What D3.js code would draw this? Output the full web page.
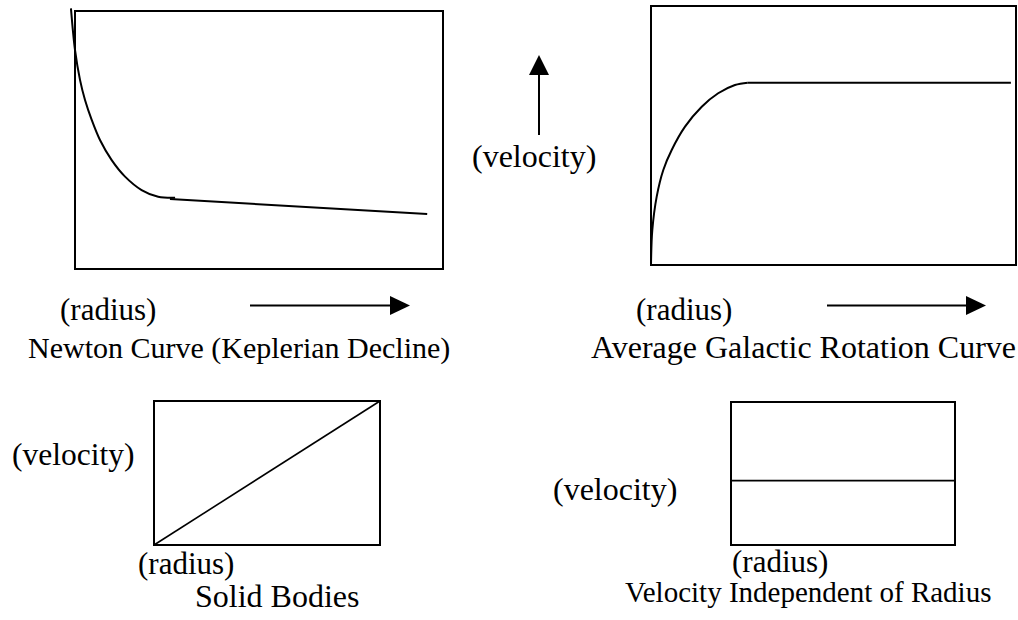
<!DOCTYPE html>
<html>
<head>
<meta charset="utf-8">
<script src="https://cdn.jsdelivr.net/npm/d3@7"></script>
<style>
  html, body { margin: 0; padding: 0; background: #fff; }
</style>
</head>
<body>
<svg id="chart" width="1018" height="620"></svg>
<script>
// ---- data (normalised units 0..100 for radius and velocity) ----
const newtonX = [-1.1, 0, 1.36, 2.72, 4.54, 6.79, 9.97, 13.6, 18.1, 22.6, 27.2];
const newtonY = [101.0, 84.9, 73.3, 65.5, 57.8, 50.0, 42.2, 35.8, 30.6, 28.0, 27.6];
const newtonTailX = [25.8, 95.7];
const newtonTailY = [27.1, 21.3];

const galacticX = [0, 0.36, 1.56, 3.37, 5.67, 9.32, 13.9, 18.4, 23.0, 26.5];
const galacticY = [0, 13.5, 26.4, 36.7, 44.4, 53.4, 61.1, 66.3, 69.5, 70.4];
const galacticFlatX = [26.5, 98.6];
const galacticFlatY = [70.4, 70.4];

const solidX = [0, 100];
const solidY = [0, 100];

const flatX = [0, 100];
const flatY = [45, 45];

const titles = ["Newton Curve (Keplerian Decline)", "Average Galactic Rotation Curve", "Solid Bodies", "Velocity Independent of Radius"];
const radiusLabel = "(radius)";
const velocityLabel = "(velocity)";

// ---- drawing ----
const svg = d3.select("#chart");
const FAMILY = "'Liberation Serif', 'Times New Roman', Times, 'DejaVu Serif', serif";

function panel(box, series, lw) {
  const x = d3.scaleLinear().domain([0, 100]).range([box.x0, box.x1]);
  const y = d3.scaleLinear().domain([0, 100]).range([box.y1, box.y0]);
  svg.append("rect")
    .attr("x", box.x0).attr("y", box.y0)
    .attr("width", box.x1 - box.x0).attr("height", box.y1 - box.y0)
    .attr("fill", "none").attr("stroke", "#000").attr("stroke-width", 2);
  series.forEach(s => {
    const pts = s.xs.map((v, i) => [v, s.ys[i]]);
    const line = d3.line().x(d => x(d[0])).y(d => y(d[1])).curve(s.curve || d3.curveLinear);
    svg.append("path").attr("d", line(pts))
      .attr("fill", "none").attr("stroke", "#000").attr("stroke-width", lw)
      .attr("stroke-linecap", "butt");
  });
}

panel({x0: 75, x1: 443, y0: 11, y1: 269}, [
  {xs: newtonX, ys: newtonY, curve: d3.curveCatmullRom.alpha(0.5)},
  {xs: newtonTailX, ys: newtonTailY}
], 2);
panel({x0: 651, x1: 1016, y0: 6, y1: 265}, [
  {xs: galacticX, ys: galacticY, curve: d3.curveCatmullRom.alpha(0.5)},
  {xs: galacticFlatX, ys: galacticFlatY}
], 2);
panel({x0: 154, x1: 380, y0: 401, y1: 545}, [
  {xs: solidX, ys: solidY}
], 1.6);
panel({x0: 731, x1: 955, y0: 402, y1: 545}, [
  {xs: flatX, ys: flatY}
], 1.6);

function text(str, x, y, size) {
  svg.append("text").attr("x", x).attr("y", y)
    .attr("font-family", FAMILY).attr("fill", "#000")
    .attr("font-size", size).text(str);
}

// arrows
function hArrow(x0, x1, y) {
  svg.append("line").attr("x1", x0).attr("x2", x1 - 18).attr("y1", y).attr("y2", y)
    .attr("stroke", "#000").attr("stroke-width", 2);
  svg.append("path").attr("d", `M${x1},${y} L${x1 - 20},${y - 9.5} L${x1 - 20},${y + 9.5} Z`).attr("fill", "#000");
}
function vArrow(x, y0, y1) {
  svg.append("line").attr("x1", x).attr("x2", x).attr("y1", y0).attr("y2", y1 + 18)
    .attr("stroke", "#000").attr("stroke-width", 2);
  svg.append("path").attr("d", `M${x},${y1} L${x - 10},${y1 + 20} L${x + 10},${y1 + 20} Z`).attr("fill", "#000");
}
hArrow(250, 410, 305.5);
hArrow(827, 986, 305.5);
vArrow(539, 135, 55);

text(velocityLabel, 472, 167, 32);
text(radiusLabel, 60, 320, 31);
text(radiusLabel, 636, 320, 31);
text(titles[0], 28, 358, 30);
text(titles[1], 591, 358, 32);

text(velocityLabel, 12, 465, 31.5);
text(radiusLabel, 138, 574, 31);
text(titles[2], 195, 607, 32);

text(velocityLabel, 553, 500, 32);
text(radiusLabel, 732, 572, 31);
text(titles[3], 625, 602, 29);
</script>
</body>
</html>
